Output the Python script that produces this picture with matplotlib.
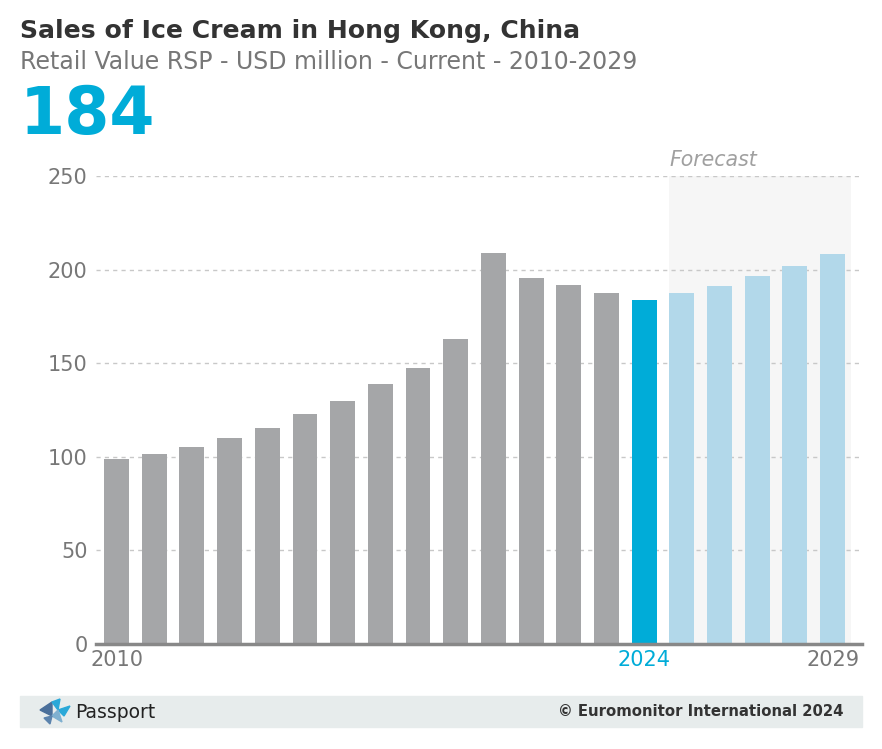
import matplotlib.pyplot as plt
import matplotlib.patches as mpatches
import numpy as np

years = list(range(2010, 2030))
values = [98.8, 101.5, 105.2, 110.0, 115.4, 122.9, 129.8, 138.9, 147.4, 162.9,
          208.9, 195.5, 191.8, 187.5, 184.0, 187.5, 191.2, 196.6, 201.9, 208.3]
current_year = 2024
shown_ticks = [2010, 2024, 2029]
yticks = [0, 50, 100, 150, 200, 250]

grey = '#a5a6a8'
blue = '#00acd8'
light = '#b2d8ea'

colors = []
for y in years:
    if y < current_year:
        colors.append(grey)
    elif y == current_year:
        colors.append(blue)
    else:
        colors.append(light)

fig = plt.figure(figsize=(8.82, 7.49), dpi=100)
ax = fig.add_axes([96/882, 105/749, 766/882, 468/749])

x = np.arange(len(years))
ax.bar(x, values, width=0.66, color=colors, zorder=3)

# forecast shading
f0 = years.index(current_year) + 1
ax.axvspan(f0 - 0.33, len(years) - 0.5, color='#f6f6f6', zorder=0, lw=0)
ax.text(f0 - 0.33, 253, 'Forecast', style='italic', color='#a0a0a0', fontsize=14.8,
        ha='left', va='bottom')

ax.set_xlim(-0.544, 19.78)
ax.set_ylim(0, 250)
ax.set_yticks(yticks)
ax.set_yticklabels([str(v) for v in yticks], color='#777777', fontsize=15)
ax.yaxis.grid(True, linestyle=(0, (3, 3)), color='#c8c8c8', lw=1, zorder=1)
ax.tick_params(axis='y', length=0, pad=6)

ax.set_xticks([years.index(y) for y in shown_ticks])
ax.set_xticklabels([str(y) for y in shown_ticks], fontsize=15)
ax.tick_params(axis='x', length=0, pad=4)
for lbl, y in zip(ax.get_xticklabels(), shown_ticks):
    lbl.set_color(blue if y == current_year else '#777777')

for s in ['top', 'right', 'left']:
    ax.spines[s].set_visible(False)
ax.spines['bottom'].set_color('#888888')
ax.spines['bottom'].set_linewidth(2.5)
ax.spines['bottom'].set_zorder(4)

# titles
fig.text(20/882, 1 - 31/749, 'Sales of Ice Cream in Hong Kong, China', fontsize=18.1,
         fontweight='bold', color='#333333', va='center', ha='left')
fig.text(20/882, 1 - 62/749, 'Retail Value RSP - USD million - Current - 2010-2029',
         fontsize=17, color='#777777', va='center', ha='left')
fig.text(20/882, 1 - 116/749, '184', fontsize=46.7, fontweight='bold', color=blue,
         va='center', ha='left')

# footer band
fig.patches.append(mpatches.Rectangle((20/882, 1 - 727/749), 842/882, 31/749,
                                      transform=fig.transFigure, color='#e7ecec', zorder=0))
fig.text(843/882, 1 - 712/749, '\u00a9 Euromonitor International 2024', fontsize=10.7,
         fontweight='bold', color='#333333', ha='right', va='center')
fig.text(75/882, 1 - 712/749, 'Passport', fontsize=13.5, color='#222222',
         ha='left', va='center', fontweight='medium')

# simple logo
def fpt(px, py):
    return (px/882, 1 - py/749)
logo = [
    ([(40, 710), (52, 702), (52, 716)], '#4a6f9a'),
    ([(52, 702), (60, 699), (58, 710)], '#2aa8d8'),
    ([(58, 710), (70, 706), (64, 716)], '#2aa8d8'),
    ([(52, 716), (58, 710), (62, 722)], '#7fb0d0'),
    ([(44, 718), (52, 716), (50, 724)], '#5b83ad'),
]
for pts, c in logo:
    fig.patches.append(mpatches.Polygon([fpt(*p) for p in pts], closed=True,
                                        transform=fig.transFigure, color=c, zorder=1))

plt.savefig('out.png', dpi=100)
